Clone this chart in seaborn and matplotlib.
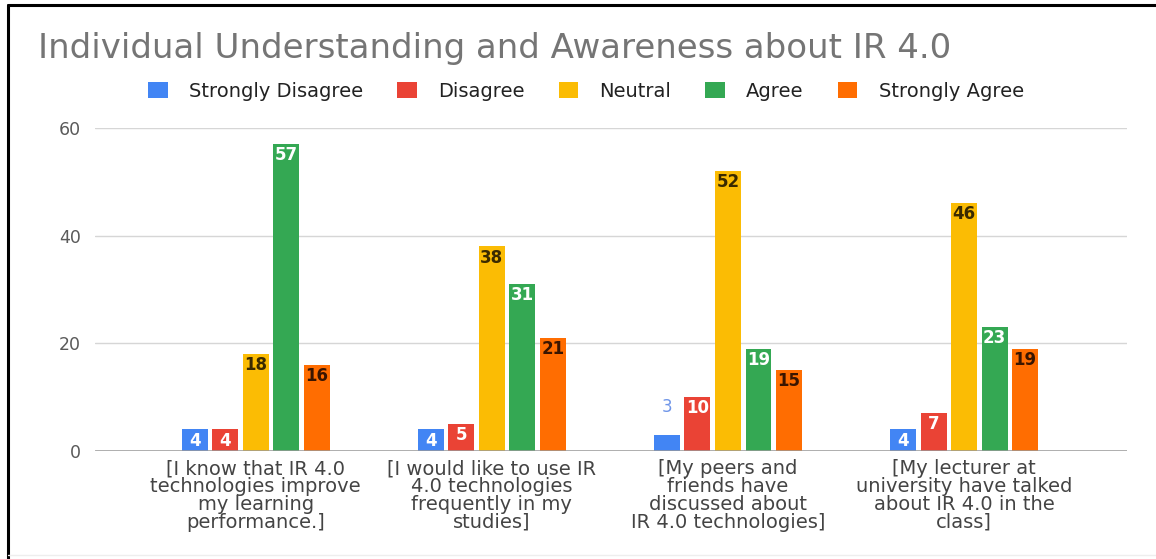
import matplotlib
matplotlib.use("Agg")
import matplotlib.pyplot as plt
from matplotlib.patches import Patch
from matplotlib.lines import Line2D
import seaborn as sns
import pandas as pd

# Survey statements (x-axis categories)
statements = [
    "[I know that IR 4.0\ntechnologies improve\nmy learning\nperformance.]",
    "[I would like to use IR\n4.0 technologies\nfrequently in my\nstudies]",
    "[My peers and\nfriends have\ndiscussed about\nIR 4.0 technologies]",
    "[My lecturer at\nuniversity have talked\nabout IR 4.0 in the\nclass]",
]

# Likert response levels
responses = ["Strongly Disagree", "Disagree", "Neutral", "Agree", "Strongly Agree"]

# Counts per response level, one value per statement
strongly_disagree = [4, 4, 3, 4]
disagree = [4, 5, 10, 7]
neutral = [18, 38, 52, 46]
agree = [57, 31, 19, 23]
strongly_agree = [16, 21, 15, 19]

colors = ["#4285F4", "#EA4335", "#FBBC04", "#34A853", "#FF6D01"]
label_colors = ["white", "white", "#3a2a00", "white", "#3a1500"]

series = [strongly_disagree, disagree, neutral, agree, strongly_agree]
rows = []
for resp, vals in zip(responses, series):
    for stmt, v in zip(statements, vals):
        rows.append({"Statement": stmt, "Response": resp, "Count": v})
df = pd.DataFrame(rows)

sns.set_theme(style="white")
plt.rcParams["font.family"] = ["DejaVu Sans"]

fig = plt.figure(figsize=(11.56, 5.59), dpi=100)
ax = fig.add_axes([0.0822, 0.1932, 0.8928, 0.5778])

sns.barplot(
    data=df, x="Statement", y="Count", hue="Response",
    order=statements, hue_order=responses, palette=colors,
    width=0.646, gap=0.15, ax=ax, legend=False, saturation=1,
    linewidth=0,
)

ax.set_ylim(0, 60)
ax.set_xlim(-0.68, 3.69)
ax.set_yticks([0, 20, 40, 60])
ax.set_xlabel("")
ax.set_ylabel("")
ax.grid(axis="y", color="#d6d6d6", linewidth=1.0)
ax.grid(axis="x", visible=False)
ax.set_axisbelow(True)
for s in ax.spines.values():
    s.set_visible(False)
ax.axhline(0, color="#9a9a9a", linewidth=1.8, zorder=3)

ax.tick_params(axis="y", length=0, pad=10, labelsize=12.5, labelcolor="#5a5a5a")
ax.tick_params(axis="x", length=0, pad=6, labelsize=14, labelcolor="#444444")
for t in ax.get_xticklabels():
    t.set_linespacing(0.92)
    t.set_ha("center")

# Value labels: inside the top of each bar, above it when the bar is too short
for ci, cont in enumerate(ax.containers):
    vals = series[ci]
    for bar, v in zip(cont, vals):
        xc = bar.get_x() + bar.get_width() / 2
        if v <= 3:
            ax.annotate(str(v), (xc, v), xytext=(0, 20), textcoords="offset points",
                        ha="center", va="center", fontsize=12,
                        color="#6f95e8", zorder=5)
        else:
            ax.annotate(str(v), (xc, v), xytext=(0, -8), textcoords="offset points",
                        ha="center", va="center", fontsize=12, fontweight="bold",
                        color=label_colors[ci], zorder=5)

fig.text(0.033, 0.914, "Individual Understanding and Awareness about IR 4.0",
         ha="left", va="center", fontsize=24.5, color="#757575")

handles = [Patch(facecolor=c, edgecolor="none") for c in colors]
fig.legend(handles, responses, loc="center", bbox_to_anchor=(0.507, 0.837),
           ncol=5, frameon=False, fontsize=14, handlelength=1.0,
           handleheight=0.9, handletextpad=1.1, columnspacing=1.75,
           labelcolor="#222222")

# Frame lines along the top and left edges
fig.add_artist(Line2D([0.0069, 0.0069], [0.0, 0.991], transform=fig.transFigure,
                      color="black", linewidth=2.2))
fig.add_artist(Line2D([0.0069, 1.0], [0.991, 0.991], transform=fig.transFigure,
                      color="black", linewidth=2.2))
fig.add_artist(Line2D([0.0069, 1.0], [0.007, 0.007], transform=fig.transFigure,
                      color="#eeeeee", linewidth=1.0))

fig.savefig("out.png", dpi=100)
